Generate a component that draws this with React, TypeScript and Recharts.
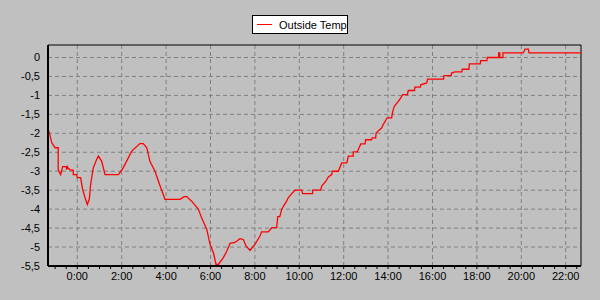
import React from "react";
import {
  LineChart,
  Line,
  XAxis,
  YAxis,
  CartesianGrid,
  Legend,
  ReferenceArea,
} from "recharts";

// hours relative to midnight (negative = previous evening)
const times = [
  -1.32, -1.26, -1.15, -1.0, -0.86, -0.86, -0.75, -0.66, -0.5, -0.48, -0.45, -0.41, -0.3,
  -0.18, -0.18, -0.03, 0.0, 0.15, 0.24, 0.35, 0.45, 0.54, 0.6, 0.72, 0.87, 0.95, 1.1, 1.25,
  1.85, 2.07, 2.45, 2.82, 2.97, 3.13, 3.27, 3.5, 3.73, 3.95, 4.63, 4.81, 4.93, 5.15, 5.45,
  5.6, 5.83, 5.98, 6.13, 6.25, 6.35, 6.58, 6.73, 6.88, 7.1, 7.33, 7.48, 7.6, 7.78, 8.0, 8.23,
  8.3, 8.6, 8.76, 8.98, 9.03, 9.12, 9.21, 9.31, 9.43, 9.5, 9.66, 9.81, 10.11, 10.15, 10.6,
  10.6, 10.96, 11.01, 11.2, 11.31, 11.46, 11.49, 11.76, 11.91, 12.14, 12.21, 12.43, 12.43,
  12.61, 12.77, 12.96, 12.99, 13.26, 13.28, 13.44, 13.46, 13.59, 13.71, 13.78, 13.96, 14.16,
  14.21, 14.28, 14.46, 14.54, 14.66, 14.87, 14.91, 15.19, 15.21, 15.45, 15.47, 15.74, 15.78,
  16.5, 16.52, 16.84, 16.86, 17.01, 17.32, 17.34, 17.64, 17.66, 18.15, 18.17, 18.45, 18.47,
  18.98, 18.98, 19.03, 19.03, 19.17, 19.17, 20.09, 20.17, 20.32, 20.35, 22.69,
];

const outsideTemp = [
  -1.88, -1.99, -2.25, -2.38, -2.38, -2.96, -3.09, -2.88, -2.88, -2.96, -2.88, -2.92, -2.97,
  -2.97, -3.09, -3.09, -3.17, -3.17, -3.48, -3.7, -3.88, -3.74, -3.35, -2.91, -2.69, -2.6,
  -2.74, -3.09, -3.09, -2.91, -2.47, -2.27, -2.27, -2.38, -2.74, -3.0, -3.39, -3.74, -3.74,
  -3.67, -3.67, -3.79, -4.0, -4.23, -4.53, -4.93, -5.15, -5.46, -5.46, -5.28, -5.11, -4.9,
  -4.88, -4.78, -4.8, -4.97, -5.09, -4.93, -4.71, -4.6, -4.6, -4.49, -4.49, -4.2, -4.2, -4.0,
  -3.9, -3.79, -3.7, -3.59, -3.5, -3.5, -3.59, -3.59, -3.5, -3.5, -3.39, -3.26, -3.15, -3.09,
  -3.0, -3.0, -2.78, -2.78, -2.6, -2.6, -2.49, -2.49, -2.28, -2.28, -2.17, -2.17, -2.12,
  -2.12, -1.99, -1.92, -1.86, -1.77, -1.59, -1.59, -1.42, -1.29, -1.16, -1.09, -0.98, -0.98,
  -0.87, -0.87, -0.78, -0.78, -0.72, -0.67, -0.57, -0.57, -0.48, -0.48, -0.41, -0.38, -0.38,
  -0.31, -0.31, -0.17, -0.17, -0.08, -0.08, 0.0, 0.0, 0.12, 0.12, 0.0, 0.0, 0.12, 0.12,
  0.22, 0.22, 0.12, 0.12,
];

const hourTicks = [0, 2, 4, 6, 8, 10, 12, 14, 16, 18, 20, 22];
const halfHourTicks: number[] = [];
for (let h = -1; h <= 22.5; h += 0.5) halfHourTicks.push(h);
const tempTicks = [0, -0.5, -1, -1.5, -2, -2.5, -3, -3.5, -4, -4.5, -5, -5.5];

const xMin = -1.32;
const xMax = 22.69;
const yMin = -5.5;
const yMax = 0.33;

const data = times.map((t, i) => ({ t, temp: outsideTemp[i] }));

const font = "'Liberation Sans', Arial, sans-serif";

function fmtHour(v: number) {
  return `${v}:00`;
}

function fmtTemp(v: number) {
  return String(v).replace(".", ",");
}

function HourTick(props: any) {
  const { x, y, payload } = props;
  if (!hourTicks.includes(payload.value)) return <g />;
  return (
    <text x={x} y={y + 9} textAnchor="middle" fontSize={11} fontFamily={font} fill="#000">
      {fmtHour(payload.value)}
    </text>
  );
}

function LegendBox() {
  return (
    <div
      style={{
        boxSizing: "border-box",
        width: 96,
        height: 19,
        background: "#fff",
        border: "1px solid #000",
        display: "flex",
        alignItems: "center",
        fontFamily: font,
        fontSize: 11,
        color: "#000",
      }}
    >
      <span style={{ display: "inline-block", width: 15, height: 1, background: "#f00", marginLeft: 4, marginRight: 7 }} />
      <span>Outside Temp</span>
    </div>
  );
}

export default function App() {
  return (
    <div style={{ position: "absolute", left: 0, top: 0, width: 600, height: 300, background: "#c0c0c0" }}>
      <LineChart width={600} height={300} data={data} margin={{ top: 26, right: 19, left: 0, bottom: 0 }}>
        <CartesianGrid
          stroke="#808080"
          strokeDasharray="4 3"
          horizontalValues={tempTicks.filter((v) => v > yMin)}
          verticalValues={hourTicks}
        />
        <ReferenceArea x1={xMin} x2={xMax} y1={yMin} y2={yMax} fill="none" stroke="#000" strokeWidth={1} />
        <XAxis
          dataKey="t"
          type="number"
          domain={[xMin, xMax]}
          allowDataOverflow
          ticks={halfHourTicks}
          interval={0}
          height={34}
          tickSize={3}
          tickLine={{ stroke: "#000" }}
          axisLine={{ stroke: "#000", strokeWidth: 2 }}
          tick={<HourTick />}
        />
        <YAxis
          type="number"
          domain={[yMin, yMax]}
          allowDataOverflow
          ticks={tempTicks}
          interval={0}
          width={48}
          tickLine={false}
          axisLine={{ stroke: "#000", strokeWidth: 2 }}
          tickFormatter={fmtTemp}
          tick={{ fontSize: 11, fontFamily: font, fill: "#000" }}
        />
        <Legend
          verticalAlign="top"
          align="left"
          height={19}
          wrapperStyle={{ top: 15, left: 252, width: 96 }}
          content={() => <LegendBox />}
        />
        <Line
          type="linear"
          dataKey="temp"
          stroke="#ff0000"
          strokeWidth={1.3}
          dot={false}
          isAnimationActive={false}
        />
      </LineChart>
    </div>
  );
}
